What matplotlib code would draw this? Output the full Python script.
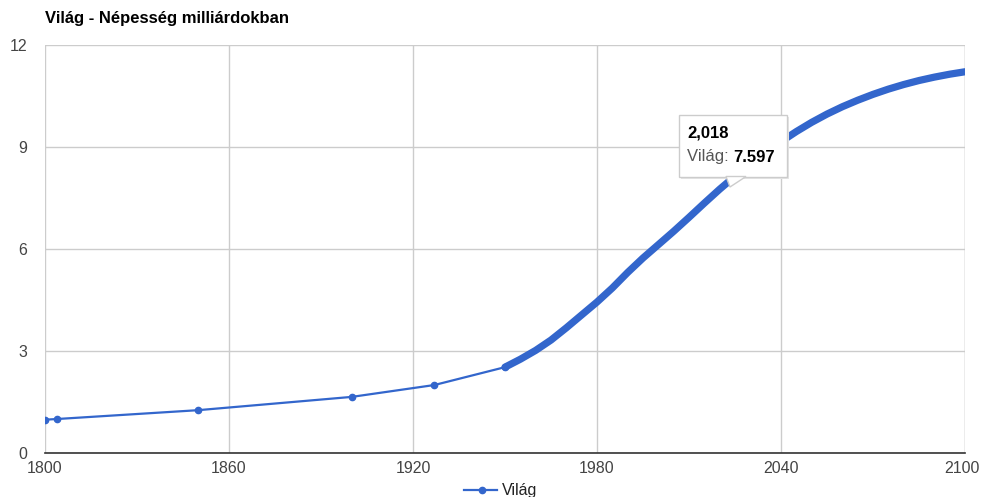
import matplotlib
matplotlib.use("Agg")
import matplotlib.pyplot as plt
import matplotlib.transforms as mtransforms
from matplotlib.patches import FancyBboxPatch, Polygon

plt.rcParams['font.family'] = ['Liberation Sans', 'DejaVu Sans']

# Historical sparse points
early_years = [1800, 1804, 1850, 1900, 1927, 1950]
early_vals = [0.98, 1.00, 1.26, 1.65, 2.00, 2.525]

# Dense series shown as thick line, 5-year steps
dense_years = [1950, 1955, 1960, 1965, 1970, 1975, 1980, 1985, 1990, 1995,
               2000, 2005, 2010, 2015, 2020, 2025, 2030, 2035, 2040, 2045,
               2050, 2055, 2060, 2065, 2070, 2075, 2080, 2085, 2090, 2095, 2100]
dense_vals = [2.525, 2.758, 3.018, 3.322, 3.682, 4.061, 4.440, 4.853, 5.310, 5.735,
              6.127, 6.520, 6.930, 7.349, 7.758, 8.142, 8.501, 8.839, 9.157, 9.454,
              9.725, 9.968, 10.184, 10.375, 10.548, 10.702, 10.837, 10.955, 11.055, 11.141, 11.213]

x_ticks = [1800, 1860, 1920, 1980, 2040, 2100]
y_ticks = [0, 3, 6, 9, 12]

title = "Világ - Népesség milliárdokban"
series_name = "Világ"
tip_year, tip_val = "2,018", "7.597"

color = "#3366CC"
W, H = 981, 497
fig = plt.figure(figsize=(W / 100, H / 100), dpi=100)
L, R, T, B = 45, 965, 45, 453
ax = fig.add_axes([L / W, 1 - B / H, (R - L) / W, (B - T) / H])

ax.plot(early_years, early_vals, color=color, lw=1.6, marker='o', ms=4.5, zorder=3,
        solid_capstyle='round')
ax.plot(dense_years, dense_vals, color=color, lw=5.2, zorder=3,
        solid_capstyle='round', solid_joinstyle='round')

ax.set_xlim(1800, 2100)
ax.set_ylim(0, 12)
ax.set_xticks(x_ticks)
ax.set_yticks(y_ticks)
ax.grid(True, color='#cccccc', lw=1)
ax.set_axisbelow(True)
for s in ['top', 'right', 'left']:
    ax.spines[s].set_visible(False)
ax.spines['bottom'].set_color('#333333')
ax.spines['bottom'].set_linewidth(1.2)
ax.tick_params(length=0, labelsize=11.5, labelcolor='#444444')
ax.tick_params(axis='x', pad=6)
ax.tick_params(axis='y', pad=13)
for lab in ax.get_yticklabels():
    lab.set_horizontalalignment('right')
ax.axvline(2100, color='#cccccc', lw=1, zorder=0)

# nudge last x label so it fits inside the figure
xlabs = ax.get_xticklabels()
last = xlabs[-1]
last.set_transform(last.get_transform() +
                   mtransforms.ScaledTranslation(-3 / 100, 0, fig.dpi_scale_trans))

fig.text(45 / W, 1 - 19 / H, title, fontsize=12, fontweight='bold', color='#000000',
         va='center', ha='left')

# Tooltip (in figure pixel coordinates)
def fx(px):
    return px / W
def fy(py):
    return 1 - py / H

box = FancyBboxPatch((fx(679), fy(177)), fx(787) - fx(679), fy(115) - fy(177),
                     boxstyle='square,pad=0', transform=fig.transFigure,
                     facecolor='white', edgecolor='#cccccc', lw=1, zorder=10)
shadow = FancyBboxPatch((fx(681), fy(179)), fx(787) - fx(679), fy(115) - fy(177),
                        boxstyle='square,pad=0', transform=fig.transFigure,
                        facecolor='#e6e6e6', edgecolor='none', zorder=9)
fig.patches.extend([shadow, box])
tail = Polygon([(fx(726), fy(176.5)), (fx(746), fy(176.5)), (fx(730), fy(187))],
               closed=True, transform=fig.transFigure, facecolor='white',
               edgecolor='#cccccc', lw=1, zorder=10)
fig.patches.append(tail)
fig.text(fx(687), fy(133), tip_year, fontsize=12, fontweight='bold', color='#000000',
         va='center', ha='left', zorder=11)
t1 = fig.text(fx(687), fy(157), series_name + ": ", fontsize=12, color='#555555',
              va='center', ha='left', zorder=11)
fig.canvas.draw()
bb = t1.get_window_extent()
fig.text(bb.x1 / W, fy(157), tip_val, fontsize=12, fontweight='bold', color='#000000',
         va='center', ha='left', zorder=11)

# Legend
fig.lines.append(plt.Line2D([fx(464), fx(497)], [fy(490), fy(490)], color=color, lw=1.6,
                            transform=fig.transFigure))
fig.lines.append(plt.Line2D([fx(482)], [fy(490)], color=color, marker='o', ms=4.5,
                            transform=fig.transFigure))
fig.text(fx(502), fy(490), series_name, fontsize=11.5, color='#222222', va='center', ha='left')

fig.savefig("out.png", dpi=100, facecolor='white')
